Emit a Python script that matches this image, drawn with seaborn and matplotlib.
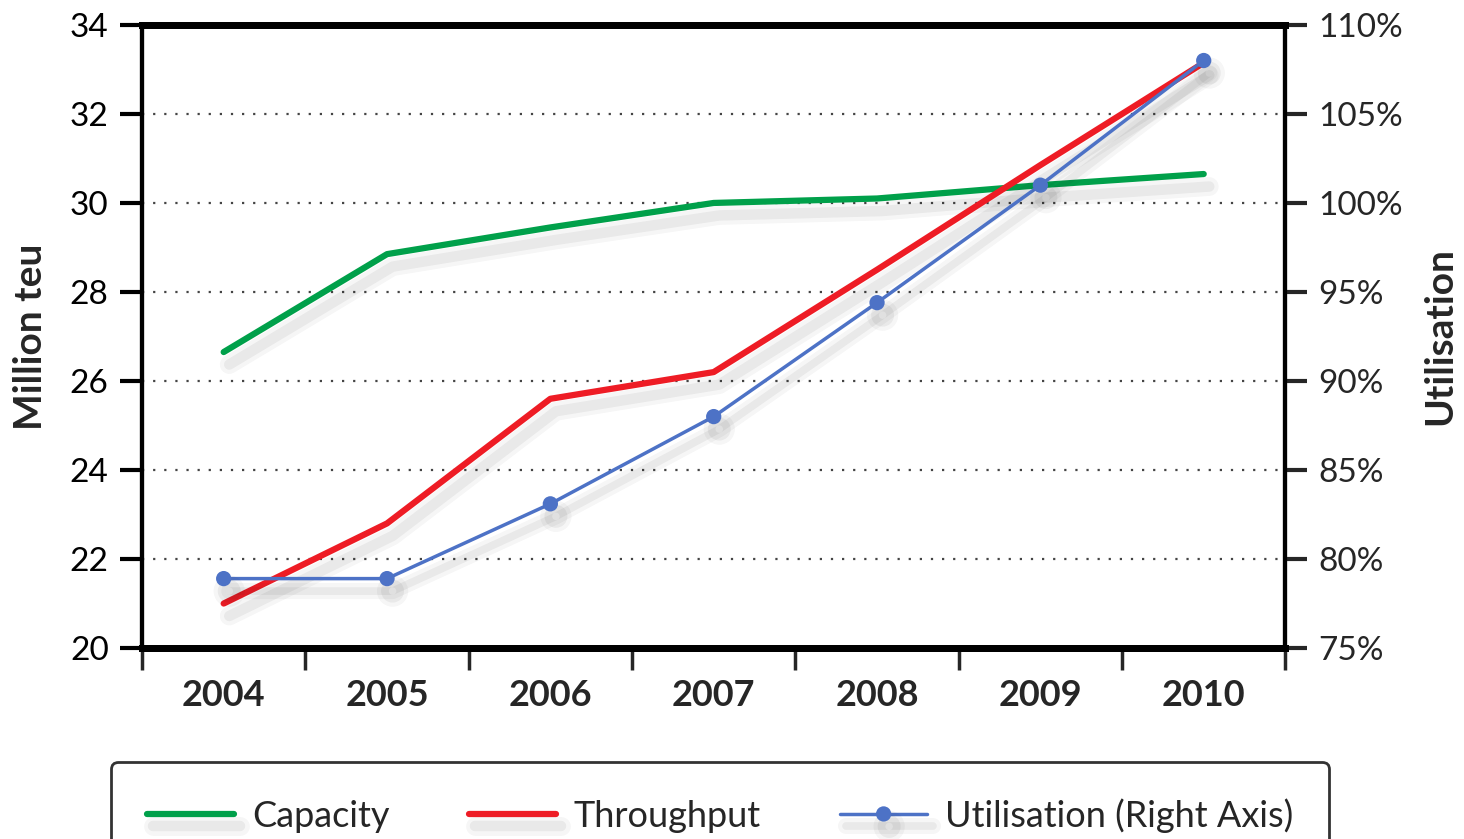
import seaborn as sns
import matplotlib.pyplot as plt
import matplotlib.patheffects as pe
import numpy as np

sns.set_theme(style="white")
plt.rcParams['font.family'] = ['Lato', 'DejaVu Sans']

# values
years = ['2004', '2005', '2006', '2007', '2008', '2009', '2010']
capacity = [26.65, 28.85, 29.45, 30.0, 30.1, 30.4, 30.65]
throughput = [21.0, 22.8, 25.6, 26.2, 28.5, 30.85, 33.15]
utilisation = [78.9, 78.9, 83.1, 88.0, 94.4, 101.0, 108.0]

green, red, blue = '#00A04A', '#EE1C25', '#4D72C6'


def shadow(lw):
    return [pe.SimpleLineShadow(offset=(4, -9), shadow_color='k', alpha=0.04, linewidth=lw + 9),
            pe.SimpleLineShadow(offset=(4, -9), shadow_color='k', alpha=0.06, linewidth=lw + 3),
            pe.Normal()]


fig = plt.figure(figsize=(14.64, 8.39), dpi=100)
ax = fig.add_axes([0.097, 0.2276, 0.781, 0.7427])
ax2 = ax.twinx()

sns.lineplot(x=years, y=capacity, ax=ax, color=green, linewidth=4.5,
             label='Capacity', path_effects=shadow(4.5))
sns.lineplot(x=years, y=throughput, ax=ax, color=red, linewidth=4.5,
             label='Throughput', path_effects=shadow(4.5))
sns.lineplot(x=years, y=utilisation, ax=ax2, color=blue, linewidth=2.5,
             marker='o', markersize=11, markeredgewidth=0,
             label='Utilisation (Right Axis)', path_effects=shadow(2.5))

h1, l1 = ax.get_legend_handles_labels()
h2, l2 = ax2.get_legend_handles_labels()
for a in (ax, ax2):
    if a.get_legend() is not None:
        a.get_legend().remove()

# left axis
ax.set_ylim(20, 34)
ax.set_yticks(np.arange(20, 35, 2))
ax.set_xlim(-0.5, 6.5)
ax.yaxis.grid(True, linestyle=(0, (1, 4)), color='#444444', linewidth=1.6)
ax.tick_params(axis='y', direction='out', length=16, width=3, pad=8,
               labelsize=24, left=True, colors='black')
ax.tick_params(axis='x', which='major', length=0, pad=22, labelsize=26)
ax.set_xticks(np.arange(-0.5, 7, 1), minor=True)
ax.tick_params(axis='x', which='minor', direction='out', length=16, width=2.5, bottom=True)
for lab in ax.get_xticklabels():
    lab.set_fontweight('bold')

# right axis
ax2.set_ylim(75, 110)
ax2.set_yticks(np.arange(75, 111, 5))
ax2.set_yticklabels([f'{v}%' for v in range(75, 111, 5)])
ax2.tick_params(axis='y', direction='out', length=16, width=3, pad=8,
                labelsize=24, right=True)
ax2.grid(False)

for a in (ax, ax2):
    for side in ('left', 'right'):
        a.spines[side].set_linewidth(3)
        a.spines[side].set_color('black')
    for side in ('top', 'bottom'):
        a.spines[side].set_linewidth(5)
        a.spines[side].set_color('black')

ax.set_ylabel('Million teu', fontsize=28, fontweight='bold')
ax.yaxis.set_label_coords(-0.082, 0.5)
ax2.set_ylabel('Utilisation', fontsize=28, fontweight='bold', rotation=90)
ax2.yaxis.set_label_coords(1.12, 0.5)
ax.set_xlabel('')

leg = fig.legend(h1 + h2, l1 + l2, loc='upper center', bbox_to_anchor=(0.492, 0.1135),
                 ncol=3, fontsize=26, frameon=True, fancybox=True,
                 handlelength=2.4, handletextpad=0.5, columnspacing=2.2,
                 borderpad=1.0, numpoints=1)
leg.get_frame().set_edgecolor('black')
leg.get_frame().set_linewidth(2)

plt.savefig('out.png', dpi=100)
